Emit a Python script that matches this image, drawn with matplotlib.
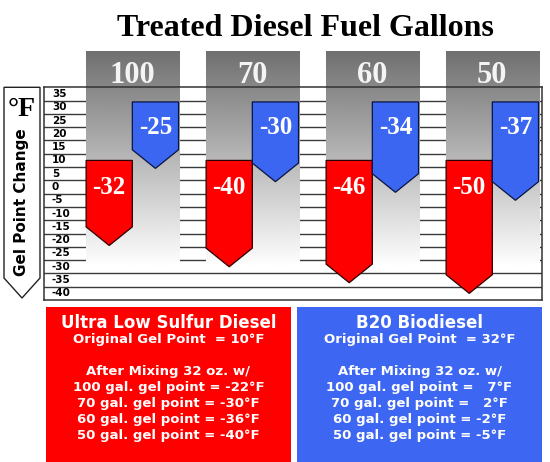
import matplotlib
matplotlib.use("Agg")
import matplotlib.pyplot as plt
import numpy as np
from matplotlib.patches import Polygon, Rectangle
from matplotlib.transforms import blended_transform_factory

# ---------------- data ----------------
gallons = ["100", "70", "60", "50"]
ulsd_original = 10
b20_original = 32
ulsd_gel = [-22, -30, -36, -40]
b20_gel = [7, 2, -2, -5]
ulsd_change = [-32, -40, -46, -50]
b20_change = [-25, -30, -34, -37]
scale_ticks = [35, 30, 25, 20, 15, 10, 5, 0, -5, -10, -15, -20, -25, -30, -35, -40]

title = "Treated Diesel Fuel Gallons"
axis_label = "Gel Point Change"
unit_label = "°F"
ulsd_name = "Ultra Low Sulfur Diesel"
b20_name = "B20 Biodiesel"

RED = "#ff0000"
BLUE = "#3a66f2"
SERIF = ["Liberation Serif", "DejaVu Serif"]
SANS = ["DejaVu Sans"]

W, H = 550, 462
fig = plt.figure(figsize=(W / 100, H / 100), dpi=100)
fig.patch.set_facecolor("white")


def fx(x):
    return x / W


def fy(y):
    return 1 - y / H


# ---------------- main axes ----------------
ax = fig.add_axes([fx(44), fy(300), (542 - 44) / W, (300 - 87.3) / H])
ax.set_facecolor("white")
step = 5
ymin = scale_ticks[-1] - step / 2
ymax = scale_ticks[0] + step / 2
for s in ax.spines.values():
    s.set_color("#333333")
    s.set_linewidth(1.1)
ax.set_xticks([])
ax.set_yticks([])

# band lines
for t in scale_ticks[:-1]:
    ax.axhline(t - step / 2, color="#3a3a3a", lw=1.0, zorder=1)

# scale labels inside the box
tr = blended_transform_factory(ax.transAxes, ax.transData)
for t in scale_ticks:
    ax.text(0.016, t, str(t), transform=tr, fontsize=7.5, fontweight="bold",
            family=SANS, va="center", ha="left", zorder=5)

# columns
half = 0.39
col_top = ymax + 13.6
col_bottom = -30
grad = np.linspace(0.0, 1.0, 256)
grad = 0.44 + (1.0 - 0.44) * grad
grad = grad.reshape(-1, 1)
head = 7
for i, g in enumerate(gallons):
    c = i
    ax.imshow(grad, extent=(c - half, c + half, col_bottom, col_top),
              cmap="gray", vmin=0, vmax=1, aspect="auto", origin="upper",
              zorder=2, clip_on=False, interpolation="bilinear")
    ax.text(c, ymax + 4.6, g, fontsize=22, fontweight="bold", family=SERIF,
            color="#f4f4f4", ha="center", va="center", zorder=6, clip_on=False)

    w = 0.385
    # red (ULSD) arrow
    rg = ulsd_gel[i]
    red = Polygon([(c - w, ulsd_original), (c, ulsd_original), (c, rg + head),
                   (c - w / 2, rg), (c - w, rg + head)], closed=True,
                  facecolor=RED, edgecolor="#2a0000", lw=0.9, zorder=3)
    ax.add_patch(red)
    ax.text(c - w / 2, ulsd_original - 10, str(ulsd_change[i]), fontsize=18,
            fontweight="bold", family=SERIF, color="white", ha="center",
            va="center", zorder=6)
    # blue (B20) arrow
    bg = b20_gel[i]
    blue = Polygon([(c, b20_original), (c + w, b20_original), (c + w, bg + head),
                    (c + w / 2, bg), (c, bg + head)], closed=True,
                   facecolor=BLUE, edgecolor="#0a1440", lw=0.9, zorder=3)
    ax.add_patch(blue)
    ax.text(c + w / 2, b20_original - 9.5, str(b20_change[i]), fontsize=18,
            fontweight="bold", family=SERIF, color="white", ha="center",
            va="center", zorder=6)

ax.set_xlim(-0.736, 3.414)
ax.set_ylim(ymin, ymax)

# ---------------- title ----------------
fig.text(fx(305), fy(28), title, fontsize=23, fontweight="bold", family=SERIF,
         ha="center", va="center", color="black")

# ---------------- left arrow label ----------------
pent = Polygon([(fx(4), fy(87.3)), (fx(40), fy(87.3)), (fx(40), fy(278)),
                (fx(22), fy(298)), (fx(4), fy(278))], closed=True,
               transform=fig.transFigure, facecolor="white", edgecolor="#222222",
               lw=1.0)
fig.patches.append(pent)
fig.text(fx(22), fy(109), unit_label, fontsize=20, fontweight="bold", family=SERIF,
         ha="center", va="center")
fig.text(fx(22), fy(202), axis_label, fontsize=11, fontweight="bold", family=SANS,
         rotation=90, ha="center", va="center")

# ---------------- bottom boxes ----------------
fig.patches.append(Rectangle((fx(46), fy(470)), (291 - 46) / W, (470 - 306.7) / H,
                             transform=fig.transFigure, facecolor=RED, edgecolor="none"))
fig.patches.append(Rectangle((fx(297), fy(470)), (542 - 297) / W, (470 - 306.7) / H,
                             transform=fig.transFigure, facecolor="#3d67f3", edgecolor="none"))


def fmt(v):
    return f"{v}" if v < 0 else f"  {v}"


for cx, name, orig, gels in [(168.5, ulsd_name, ulsd_original, ulsd_gel),
                             (419.5, b20_name, b20_original, b20_gel)]:
    fig.text(fx(cx), fy(323), name, fontsize=12, fontweight="bold", family=SANS,
             color="white", ha="center", va="center")
    fig.text(fx(cx), fy(340), f"Original Gel Point  = {orig}°F", fontsize=9.5,
             fontweight="bold", family=SANS, color="white", ha="center", va="center")
    fig.text(fx(cx), fy(371), "After Mixing 32 oz. w/", fontsize=9.5,
             fontweight="bold", family=SANS, color="white", ha="center", va="center")
    for k, (g, v) in enumerate(zip(gallons, gels)):
        fig.text(fx(cx), fy(387 + 16 * k), f"{g} gal. gel point = {fmt(v)}°F",
                 fontsize=9.5, fontweight="bold", family=SANS, color="white",
                 ha="center", va="center")

fig.savefig("out.png", dpi=100)
